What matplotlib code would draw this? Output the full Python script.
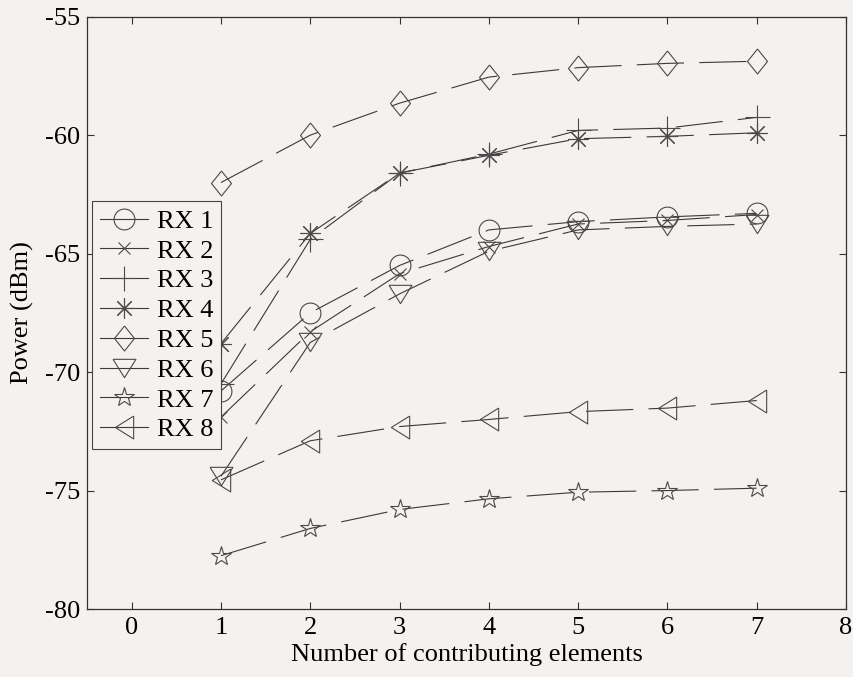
import matplotlib
matplotlib.use("Agg")
import matplotlib.pyplot as plt

x = [1, 2, 3, 4, 5, 6, 7]

rx1 = [-70.8, -67.5, -65.5, -64.0, -63.65, -63.45, -63.3]
rx2 = [-71.9, -68.3, -65.85, -64.7, -63.75, -63.6, -63.35]
rx3 = [-70.5, -64.4, -61.6, -60.8, -59.8, -59.7, -59.25]
rx4 = [-68.8, -64.15, -61.6, -60.85, -60.15, -60.05, -59.9]
rx5 = [-62.0, -60.0, -58.65, -57.55, -57.15, -56.97, -56.88]
rx6 = [-74.4, -68.75, -66.7, -64.9, -64.0, -63.85, -63.75]
rx7 = [-77.75, -76.6, -75.8, -75.35, -75.07, -75.0, -74.9]
rx8 = [-74.55, -72.9, -72.3, -72.0, -71.67, -71.52, -71.2]

labels = ["RX 1", "RX 2", "RX 3", "RX 4", "RX 5", "RX 6", "RX 7", "RX 8"]
series = [rx1, rx2, rx3, rx4, rx5, rx6, rx7, rx8]

xticks = [0, 1, 2, 3, 4, 5, 6, 7, 8]
yticks = [-80, -75, -70, -65, -60, -55]

# MATLAB-style marker shapes
diamond = [(0, 1), (0.8, 0), (0, -1), (-0.8, 0), (0, 1)]
tri_down = [(-1, 0.8), (1, 0.8), (0, -0.8), (-1, 0.8)]
tri_left = [(0.8, 1), (0.8, -1), (-0.8, 0), (0.8, 1)]
markers = [("o", 15), ("x", 9), ("+", 18), ((8, 2, 0), 14.5),
           (diamond, 18), (tri_down, 16.5), ("*", 15), (tri_left, 16.5)]

plt.rcParams["font.family"] = ["Liberation Serif", "DejaVu Serif"]
plt.rcParams["font.size"] = 19
plt.rcParams["axes.unicode_minus"] = False
plt.rcParams["lines.scale_dashes"] = False

bg = "#f5f1ef"
fig = plt.figure(figsize=(8.54, 6.77), dpi=100, facecolor=bg)
ax = fig.add_axes([87 / 854, 1 - 609 / 677, 759 / 854, 592.3 / 677])
ax.set_facecolor(bg)

for ys, lab, (m, ms) in zip(series, labels, markers):
    ax.plot(x, ys, color="#3a3a3a", lw=0.8, dashes=(34, 11),
            marker=m, ms=ms, mfc="none", mec="#4a4a4a", mew=0.8, label=lab)

ax.set_xlim(-0.5, 8)
ax.set_ylim(-80, -55)
ax.set_xticks(xticks)
ax.set_yticks(yticks)
ax.tick_params(direction="in", length=5, width=0.8, top=True, right=True,
               color="#333333")
ax.tick_params(axis="x", pad=6)
ax.tick_params(axis="y", pad=5)
for s in ax.spines.values():
    s.set_color("#333333")
    s.set_linewidth(0.9)

ax.set_xlabel("Number of contributing elements", labelpad=3)
ax.set_ylabel("Power (dBm)", labelpad=8)

leg = ax.legend(loc="upper left", bbox_to_anchor=(0.0, 0.697),
                borderaxespad=0.2, handlelength=1.8, handletextpad=0.35,
                labelspacing=0.24, borderpad=0.3, fancybox=False,
                framealpha=1, facecolor=bg, edgecolor="#444444")
leg.get_frame().set_linewidth(0.8)
for h in leg.get_lines():
    h.set_linestyle("-")

fig.savefig("out.png", dpi=100, facecolor=bg)
